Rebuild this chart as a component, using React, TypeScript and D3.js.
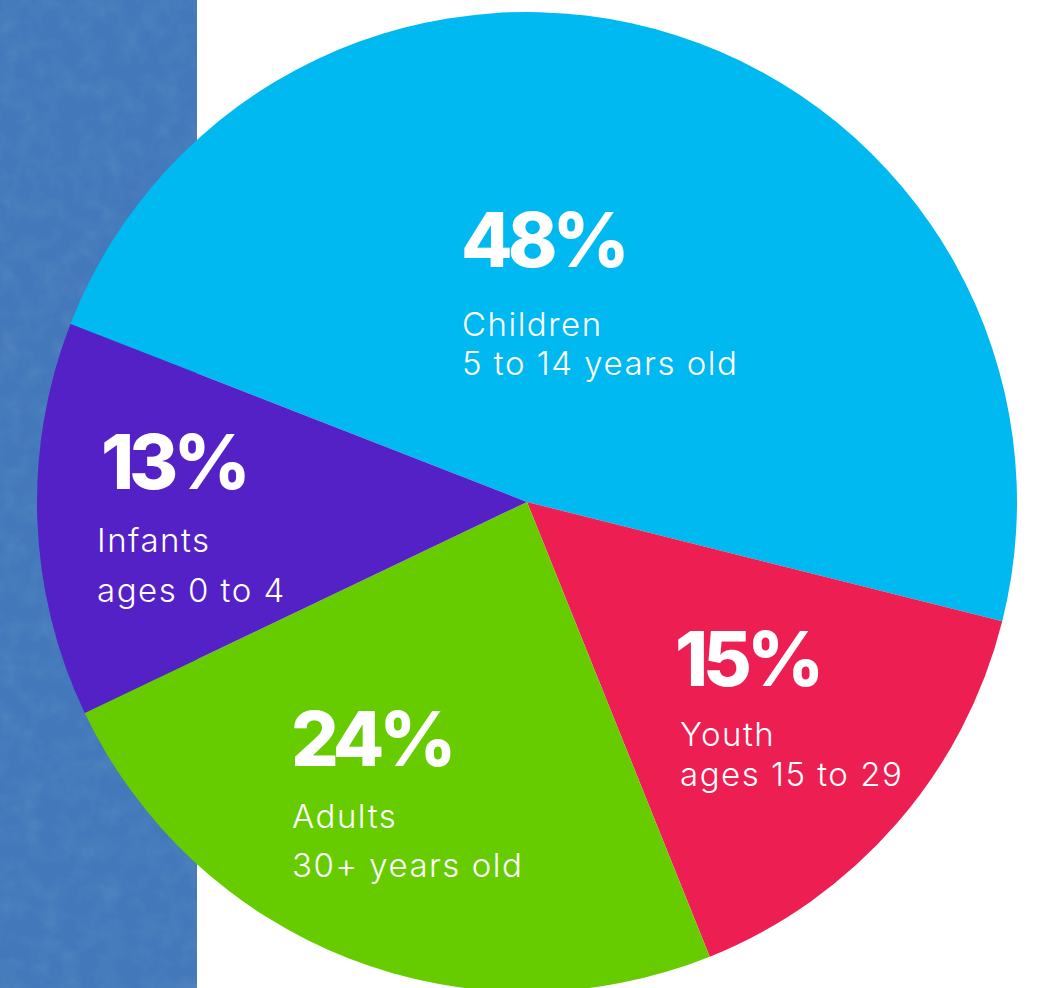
import React from "react";
import * as d3 from "d3";

const categories = ["Children", "Youth", "Adults", "Infants"];
const subLabels = ["5 to 14 years old", "ages 15 to 29", "30+ years old", "ages 0 to 4"];
const values = [48, 15, 24, 13];
const colors = ["#00b9f0", "#ec1e52", "#66cc00", "#5421c6"];

// label layout: [pctX, textX, pctBaseline, line1Baseline, line2Baseline]
const labelLayout = [
  [461, 462, 267, 336, 375],
  [675, 680, 686, 746, 786],
  [291, 292, 766, 828, 877],
  [101, 97, 489, 552, 602],
];

const W = 1045;
const H = 988;
const cx = 527;
const cy = 502;
const R = 490;
const startDeg = -68.7;

export default function App() {
  const start = (startDeg * Math.PI) / 180;
  const pie = d3
    .pie<number>()
    .sort(null)
    .value((d) => d)
    .startAngle(start)
    .endAngle(start + 2 * Math.PI);
  const arcs = pie(values);
  const arc = d3.arc<d3.PieArcDatum<number>>().innerRadius(0).outerRadius(R);

  return (
    <svg
      width={W}
      height={H}
      style={{ position: "absolute", left: 0, top: 0, background: "#ffffff" }}
    >
      <defs>
        <filter id="tex" x="0" y="0" width="100%" height="100%">
          <feTurbulence type="fractalNoise" baseFrequency="0.05" numOctaves="3" seed="3" result="n" />
          <feColorMatrix
            in="n"
            type="matrix"
            values="0 0 0 0 0.16  0 0 0 0 0.33  0 0 0 0 0.58  0 0 0 1.4 -0.55"
          />
        </filter>
      </defs>
      <rect x={0} y={0} width={197} height={H} fill="#4379bb" />
      <rect x={0} y={0} width={197} height={H} filter="url(#tex)" opacity={0.35} />
      <g transform={`translate(${cx},${cy})`}>
        {arcs.map((a, i) => (
          <path key={categories[i]} d={arc(a) || ""} fill={colors[i]} />
        ))}
      </g>
      {arcs.map((a, i) => {
        const [px, tx, yp, y1, y2] = labelLayout[i];
        return (
          <g key={"l" + i} fill="#ffffff">
            <text
              x={px}
              y={yp}
              fontFamily="Inter, 'Open Sans', sans-serif"
              fontWeight={800}
              fontSize={75}
              letterSpacing={-5}
            >
              {values[i]}%
            </text>
            <text
              x={tx}
              y={y1}
              fontFamily="Inter, 'Open Sans', sans-serif"
              fontWeight={300}
              fontSize={33}
              letterSpacing={1.5}
            >
              {categories[i]}
            </text>
            <text
              x={tx}
              y={y2}
              fontFamily="Inter, 'Open Sans', sans-serif"
              fontWeight={300}
              fontSize={33}
              letterSpacing={1.5}
            >
              {subLabels[i]}
            </text>
          </g>
        );
      })}
    </svg>
  );
}
